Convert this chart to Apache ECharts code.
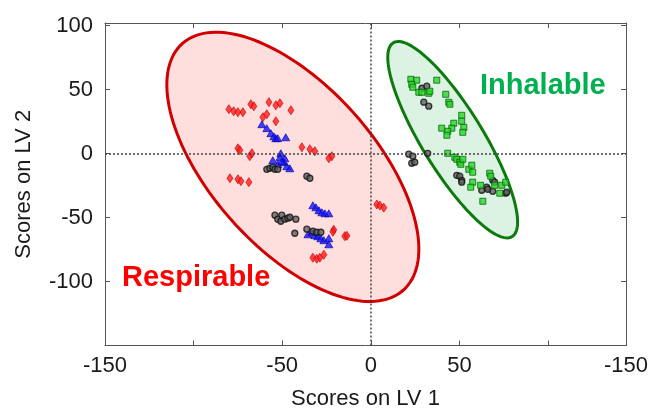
<!DOCTYPE html>
<html>
<head>
<meta charset="utf-8">
<script src="https://cdn.jsdelivr.net/npm/echarts@6/dist/echarts.min.js"></script>
<style>
  html, body { margin: 0; padding: 0; background: #fff; }
  #chart { width: 648px; height: 411px; }
</style>
</head>
<body>
<div id="chart"></div>
<script>
var fontFamily = "'Liberation Sans', Arial, sans-serif";

// 坐标轴刻度与标签
var xMin = -150, xMax = 144;
var yMin = -150, yMax = 102;
var xTickValues = [-150, -50, 0, 50, 144];
var xTickLabels = ['-150', '-50', '0', '50', '-150'];
var yTickValues = [-100, -50, 0, 50, 100];
var yTickLabels = ['-100', '-50', '0', '50', '100'];

// 置信椭圆 [cx, cy, 半长轴, 半短轴, 旋转角度]
var respirableEllipse = [-44, -10.4, 116.3, 51, -61.7];
var inhalableEllipse = [46.2, 10.8, 83, 18.5, -67];

// 红色菱形
var redPoints = [
  [-80.1, 34.6], [-77.4, 33.0], [-75.0, 32.3], [-72.2, 32.3], [-67.7, 38.5], [-66.0, 36.9],
  [-57.5, 40.1], [-53.6, 37.7], [-51.3, 39.3], [-45.1, 33.8], [-60.9, 28.4], [-58.7, 30.7],
  [-53.6, 25.2], [-75.0, 4.1], [-73.9, 2.6], [-68.3, -2.1], [-67.1, 0.2], [-38.9, 4.9],
  [-34.4, 3.4], [-31.6, 1.8], [-23.7, -3.7], [-22.0, -2.1], [-79.5, -19.3], [-75.0, -20.1],
  [-73.3, -21.6], [-68.8, -22.4], [-20.9, -59.6], [-21.4, -61.2], [-14.7, -64.6], [-13.5, -64.3],
  [-32.7, -81.4], [-30.5, -82.2], [-28.8, -81.4], [-26.5, -79.1], [3.4, -39.8], [5.1, -40.6],
  [7.3, -42.3]
];

// 蓝色三角
var bluePoints = [
  [-61.5, 22.9], [-58.7, 19.8], [-56.4, 15.9], [-54.7, 13.5], [-53.6, 12.0], [-52.5, 12.0],
  [-48.0, 12.7], [-50.8, 0.2], [-51.3, -2.9], [-48.5, -3.7], [-49.1, -6.8], [-52.5, -8.4],
  [-55.3, -5.2], [-47.4, -9.9], [-45.7, -11.5], [-50.2, -6.0], [-32.7, -40.4], [-31.0, -42.0],
  [-29.3, -44.3], [-27.6, -45.9], [-25.9, -46.7], [-23.7, -46.7], [-35.5, -63.1], [-33.3, -61.5],
  [-31.6, -63.8], [-29.9, -64.6], [-28.2, -66.2], [-26.5, -67.7], [-23.7, -66.2], [-23.7, -70.9]
];

// 黑色圆点
var blackPoints = [
  [-58.7, -12.3], [-57.0, -11.5], [-55.3, -10.7], [-54.1, -12.3], [-52.5, -12.3], [-36.1, -17.7],
  [-34.4, -19.3], [-54.1, -48.2], [-52.5, -51.3], [-50.8, -52.9], [-50.2, -48.2], [-48.5, -51.3],
  [-46.8, -50.5], [-45.7, -49.8], [-42.3, -51.3], [-42.9, -62.3], [-36.1, -59.1], [-32.7, -60.7],
  [-30.5, -61.5], [-28.2, -61.5],
  [28.8, 51.0], [31.6, 52.6], [29.9, 40.1], [32.7, 37.0], [21.4, -0.5], [23.7, -2.1],
  [23.1, -7.6], [24.8, -6.8], [32.1, 0.2], [48.5, -17.0], [50.2, -17.7], [51.3, -20.9],
  [51.3, -22.4], [62.6, -28.7], [65.4, -26.3], [66.0, -27.9], [68.8, -29.5], [68.8, -20.9],
  [69.9, -22.4], [76.1, -31.0], [76.7, -30.2]
];

// 绿色方块
var greenPoints = [
  [22.6, 58.0], [25.9, 57.3], [23.1, 54.1], [23.7, 51.8], [27.1, 47.9], [28.8, 47.9],
  [32.7, 47.1], [33.3, 48.7], [37.2, 57.3], [42.3, 46.3], [44.0, 40.1], [44.6, 38.5],
  [51.3, 29.9], [51.3, 25.2], [52.5, 20.5], [51.9, 16.6], [46.8, 23.7], [45.7, 19.8],
  [43.4, 17.4], [42.9, 14.3], [40.0, 19.8], [43.4, 0.2], [47.4, -2.9], [48.5, -4.5],
  [50.2, -6.8], [50.8, -8.4], [51.9, -4.5], [55.3, -12.3], [57.0, -9.1], [57.5, -14.6],
  [57.5, -22.4], [56.4, -26.3], [62.0, -24.8], [63.2, -37.3], [67.1, -15.4], [67.7, -17.7],
  [69.9, -24.8], [72.8, -31.0], [73.9, -24.8], [76.1, -22.4]
];

function tickFormatter(values, labels) {
  return function (v) {
    for (var i = 0; i < values.length; i++) {
      if (Math.abs(values[i] - v) < 1e-6) return labels[i];
    }
    return '';
  };
}

// 椭圆图层
function ellipseSeries(e, stroke, fill) {
  return {
    type: 'custom',
    coordinateSystem: 'cartesian2d',
    silent: true,
    z: 1,
    data: [[e[0], e[1]]],
    renderItem: function (params, api) {
      var pts = [];
      var t = e[4] * Math.PI / 180;
      for (var i = 0; i < 144; i++) {
        var s = i / 144 * Math.PI * 2;
        var dx = e[2] * Math.cos(s), dy = e[3] * Math.sin(s);
        pts.push(api.coord([
          e[0] + dx * Math.cos(t) - dy * Math.sin(t),
          e[1] + dx * Math.sin(t) + dy * Math.cos(t)
        ]));
      }
      return {
        type: 'polygon',
        shape: { points: pts },
        style: { fill: fill, stroke: stroke, lineWidth: 3 }
      };
    }
  };
}

var axisLine = { show: true, onZero: false, lineStyle: { color: '#555', width: 1 } };
var axisTick = { show: true, inside: true, length: 5, lineStyle: { color: '#555' } };
var labelStyle = { fontSize: 22, color: '#1a1a1a', fontFamily: fontFamily };

var chart = echarts.init(document.getElementById('chart'));
chart.setOption({
  animation: false,
  backgroundColor: '#fff',
  grid: { left: 105, right: 22, top: 23, bottom: 65.5, outerBoundsMode: 'none', containLabel: false },
  xAxis: [{
    type: 'value', min: xMin, max: xMax, interval: 50, position: 'bottom',
    axisLine: axisLine, axisTick: axisTick, splitLine: { show: false },
    axisLabel: Object.assign({ margin: 9, showMinLabel: true, showMaxLabel: true,
      formatter: tickFormatter(xTickValues, xTickLabels) }, labelStyle),
    name: 'Scores on LV 1', nameLocation: 'middle', nameGap: 42,
    nameTextStyle: labelStyle
  }, {
    type: 'value', min: xMin, max: xMax, interval: 50, position: 'top',
    axisLine: axisLine, axisTick: axisTick, splitLine: { show: false },
    axisLabel: { show: false }
  }],
  yAxis: [{
    type: 'value', min: yMin, max: yMax, interval: 50, position: 'left',
    axisLine: axisLine, axisTick: axisTick, splitLine: { show: false },
    axisLabel: Object.assign({ margin: 12, showMinLabel: true, showMaxLabel: true,
      formatter: tickFormatter(yTickValues, yTickLabels) }, labelStyle),
    name: 'Scores on LV 2', nameLocation: 'middle', nameGap: 70,
    nameTextStyle: labelStyle
  }, {
    type: 'value', min: yMin, max: yMax, interval: 50, position: 'right',
    axisLine: axisLine, axisTick: axisTick, splitLine: { show: false },
    axisLabel: { show: false }
  }],
  graphic: [{
    type: 'text', left: 122, top: 263, z: 10,
    style: { text: 'Respirable', fill: '#ff0000', font: 'bold 29px ' + fontFamily }
  }, {
    type: 'text', left: 480, top: 71, z: 10,
    style: { text: 'Inhalable', fill: '#00b050', font: 'bold 29px ' + fontFamily }
  }],
  series: [
    ellipseSeries(respirableEllipse, '#d00000', '#ffdede'),
    ellipseSeries(inhalableEllipse, '#0c7a0c', '#dcf3e4'),
    {
      type: 'scatter', data: [], z: 2, silent: true,
      markLine: {
        silent: true, symbol: ['none', 'none'], animation: false,
        label: { show: false },
        lineStyle: { color: '#444', type: [2, 2], width: 1.5 },
        data: [{ xAxis: 0 }, { yAxis: 0 }]
      }
    },
    {
      name: 'red', type: 'scatter', z: 3, data: redPoints, symbol: 'diamond', symbolSize: [6, 9],
      itemStyle: { color: '#ff1a1a', borderColor: '#c80000', borderWidth: 0.8 }
    },
    {
      name: 'blue', type: 'scatter', z: 3, data: bluePoints, symbol: 'triangle', symbolSize: [8, 7],
      itemStyle: { color: '#1414ff', borderColor: '#0000a0', borderWidth: 0.8 }
    },
    {
      name: 'black', type: 'scatter', z: 3, data: blackPoints, symbol: 'circle', symbolSize: 6,
      itemStyle: { color: '#606060', borderColor: '#111', borderWidth: 1.3 }
    },
    {
      name: 'green', type: 'scatter', z: 3, data: greenPoints, symbol: 'rect', symbolSize: 6,
      itemStyle: { color: '#2bd42b', borderColor: '#086808', borderWidth: 1 }
    }
  ]
});
</script>
</body>
</html>
